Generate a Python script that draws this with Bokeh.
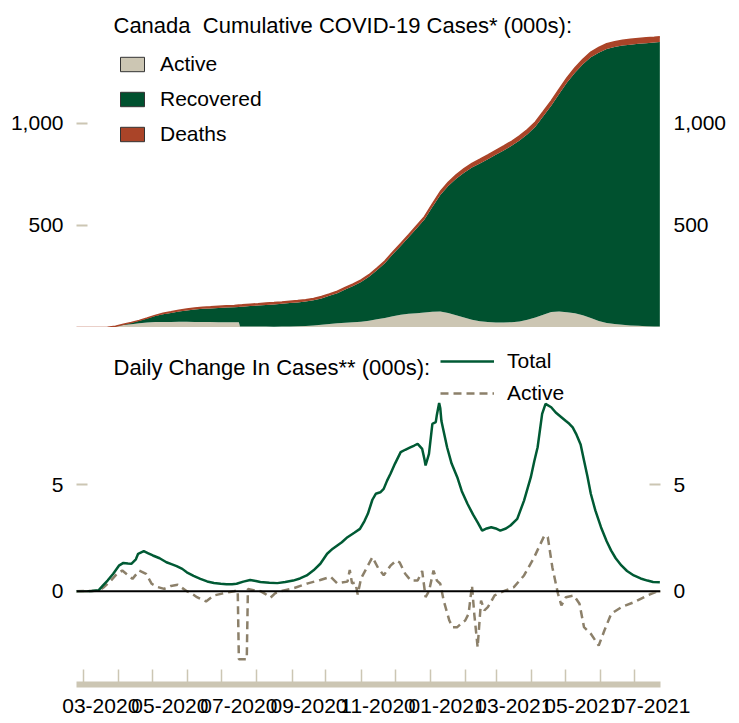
from datetime import datetime
import pandas as pd
from bokeh.plotting import figure
from bokeh.layouts import column
from bokeh.models import (ColumnDataSource, Range1d, LinearAxis, DatetimeAxis, FixedTicker,
                          NumeralTickFormatter, DatetimeTickFormatter, Legend, LegendItem,
                          Label, Span)
from bokeh.embed import file_html
from bokeh.resources import INLINE

FONT = "Liberation Sans"
FS = "21px"
FS_HEAD = "22px"
TXT = "#000000"
BEIGE = "#CCC6B3"
GREEN = "#00512F"
RUST = "#AA4428"
LINE_GREEN = "#005A34"
DASH = "#8C806A"
NAN = float("nan")

# ---------------- data: cumulative (000s) ----------------
top_dates = [
    "2020-02-23", "2020-03-01", "2020-03-08", "2020-03-15", "2020-03-22", "2020-03-29",
    "2020-04-05", "2020-04-12", "2020-04-19", "2020-04-26", "2020-05-03", "2020-05-10",
    "2020-05-17", "2020-05-24", "2020-05-31", "2020-06-07", "2020-06-14", "2020-06-21",
    "2020-06-28", "2020-07-05", "2020-07-12", "2020-07-16", "2020-07-17", "2020-07-19",
    "2020-07-26", "2020-08-02", "2020-08-09", "2020-08-16", "2020-08-23", "2020-08-30",
    "2020-09-06", "2020-09-13", "2020-09-20", "2020-09-27", "2020-10-04", "2020-10-11",
    "2020-10-18", "2020-10-25", "2020-11-01", "2020-11-08", "2020-11-15", "2020-11-22",
    "2020-11-29", "2020-12-06", "2020-12-13", "2020-12-20", "2020-12-27", "2021-01-03",
    "2021-01-10", "2021-01-17", "2021-01-24", "2021-01-31", "2021-02-07", "2021-02-14",
    "2021-02-21", "2021-02-28", "2021-03-07", "2021-03-14", "2021-03-21", "2021-03-28",
    "2021-04-04", "2021-04-11", "2021-04-18", "2021-04-25", "2021-05-02", "2021-05-09",
    "2021-05-16", "2021-05-23", "2021-05-30", "2021-06-06", "2021-06-13", "2021-06-20",
    "2021-06-27", "2021-07-04", "2021-07-11", "2021-07-18", "2021-07-23",
]
total_cases = [
    0.01, 0.02, 0.06, 0.34, 1.5, 6.3,
    15.8, 24.4, 35.0, 46.9, 59.5, 69.9,
    77.0, 84.7, 90.9, 95.7, 99.5, 101.6,
    103.9, 106.2, 108.2, 109.9, 110.3, 111.1,
    114.0, 116.5, 119.5, 122.1, 125.0, 128.9,
    132.1, 136.1, 142.8, 151.6, 164.5, 178.1,
    196.3, 213.9, 233.0, 258.8, 291.6, 325.7,
    370.3, 412.3, 455.1, 499.0, 543.5, 606.0,
    666.5, 711.5, 748.1, 778.6, 804.4, 824.6,
    846.4, 868.6, 889.8, 912.8, 939.0, 970.5,
    1007.0, 1058.6, 1111.0, 1168.0, 1224.6, 1273.2,
    1315.1, 1350.0, 1372.5, 1391.0, 1401.1, 1408.3,
    1412.9, 1417.0, 1420.2, 1423.3, 1425.6,
]
active_cases = [
    0.01, 0.02, 0.05, 0.3, 1.4, 5.8,
    12.5, 16.5, 21.0, 24.5, 26.5, 27.5,
    27.5, 28.0, 28.0, 27.5, 27.0, 26.5,
    26.0, 26.0, 26.0, 26.0, 4.5, 4.5,
    4.3, 4.3, 4.3, 4.1, 4.5, 5.0,
    6.0, 7.5, 10.0, 13.5, 17.5, 20.5,
    23.5, 26.0, 28.0, 33.5, 41.0, 47.0,
    55.0, 62.0, 67.0, 70.0, 73.0, 77.0,
    79.0, 71.0, 60.0, 49.0, 38.0, 31.0,
    27.0, 25.0, 24.5, 26.0, 30.0, 38.0,
    49.0, 63.0, 76.0, 78.0, 75.0, 70.0,
    60.0, 46.0, 32.0, 22.0, 17.0, 13.0,
    10.0, 8.0, 6.5, 5.0, 4.5,
]
deaths = [
    0.0, 0.0, 0.0, 0.001, 0.02, 0.06,
    0.26, 0.65, 1.6, 2.6, 3.7, 4.8,
    5.7, 6.4, 7.3, 7.9, 8.2, 8.4,
    8.6, 8.7, 8.8, 8.83, 8.84, 8.85,
    8.9, 8.95, 9.0, 9.05, 9.1, 9.13,
    9.16, 9.2, 9.24, 9.3, 9.4, 9.6,
    9.8, 10.0, 10.3, 10.6, 10.9, 11.3,
    11.8, 12.3, 12.9, 13.5, 14.1, 15.6,
    16.7, 17.5, 18.6, 19.8, 20.5, 21.2,
    21.6, 22.0, 22.3, 22.5, 22.7, 22.9,
    23.1, 23.3, 23.5, 23.8, 24.2, 24.6,
    24.9, 25.2, 25.5, 25.8, 26.0, 26.2,
    26.3, 26.4, 26.45, 26.5, 26.55,
]
top_labels = ["Active", "Recovered", "Deaths"]

# ---------------- data: daily change (000s) ----------------
total_chg_dates = [
    "2020-02-23", "2020-03-08", "2020-03-14", "2020-03-18", "2020-03-22", "2020-03-27",
    "2020-04-01", "2020-04-05", "2020-04-09", "2020-04-12", "2020-04-16", "2020-04-18",
    "2020-04-23", "2020-04-27", "2020-05-01", "2020-05-07", "2020-05-13", "2020-05-18",
    "2020-05-22", "2020-05-27", "2020-05-31", "2020-06-06", "2020-06-12", "2020-06-18",
    "2020-06-24", "2020-06-30", "2020-07-05", "2020-07-10", "2020-07-14", "2020-07-20",
    "2020-07-26", "2020-07-31", "2020-08-04", "2020-08-12", "2020-08-19", "2020-08-26",
    "2020-09-02", "2020-09-08", "2020-09-14", "2020-09-20", "2020-09-26", "2020-10-02",
    "2020-10-07", "2020-10-11", "2020-10-15", "2020-10-20", "2020-10-26", "2020-10-31",
    "2020-11-04", "2020-11-07", "2020-11-11", "2020-11-14", "2020-11-18", "2020-11-21",
    "2020-11-24", "2020-11-27", "2020-12-01", "2020-12-06", "2020-12-10", "2020-12-14",
    "2020-12-18", "2020-12-21", "2020-12-25", "2020-12-27", "2020-12-28", "2020-12-31",
    "2021-01-03", "2021-01-06", "2021-01-07", "2021-01-09", "2021-01-10", "2021-01-11",
    "2021-01-16", "2021-01-20", "2021-01-25", "2021-01-29", "2021-02-03", "2021-02-08",
    "2021-02-12", "2021-02-16", "2021-02-20", "2021-02-24", "2021-02-28", "2021-03-04",
    "2021-03-09", "2021-03-13", "2021-03-19", "2021-03-25", "2021-03-31", "2021-04-03",
    "2021-04-06", "2021-04-10", "2021-04-13", "2021-04-18", "2021-04-22", "2021-04-27",
    "2021-05-01", "2021-05-04", "2021-05-07", "2021-05-10", "2021-05-14", "2021-05-17",
    "2021-05-20", "2021-05-23", "2021-05-27", "2021-06-01", "2021-06-06", "2021-06-10",
    "2021-06-14", "2021-06-19", "2021-06-24", "2021-06-30", "2021-07-06", "2021-07-12",
    "2021-07-17", "2021-07-23",
]
total_chg = [
    0.0, 0.01, 0.04, 0.27, 0.5, 0.82,
    1.2, 1.33, 1.30, 1.29, 1.5, 1.76,
    1.88, 1.78, 1.68, 1.55, 1.36, 1.26,
    1.18, 1.05, 0.89, 0.72, 0.58, 0.46,
    0.39, 0.35, 0.33, 0.33, 0.35, 0.45,
    0.53, 0.48, 0.43, 0.40, 0.38, 0.43,
    0.50, 0.6, 0.74, 0.98, 1.29, 1.76,
    2.0, 2.15, 2.3, 2.54, 2.75, 2.93,
    3.3, 3.64, 4.3, 4.58, 4.65, 4.81,
    5.2, 5.52, 6.0, 6.54, 6.65, 6.75,
    6.85, 6.93, 6.69, 6.2, 5.91, 6.46,
    7.87, 7.95, 8.3, 8.85, 8.6, 8.0,
    6.77, 6.0, 5.36, 4.7, 4.11, 3.6,
    3.24, 2.85, 2.95, 3.01, 2.95, 2.85,
    2.95, 3.09, 3.40, 4.26, 5.36, 6.1,
    6.77, 8.34, 8.81, 8.65, 8.4, 8.18,
    8.0, 7.87, 7.7, 7.40, 6.9, 6.14,
    5.4, 4.58, 3.8, 3.01, 2.35, 1.91,
    1.55, 1.21, 0.95, 0.74, 0.6, 0.50,
    0.43, 0.42,
]
active_chg_dates = [
    "2020-02-23", "2020-03-14", "2020-03-19", "2020-03-25", "2020-03-30", "2020-04-04",
    "2020-04-08", "2020-04-13", "2020-04-19", "2020-04-25", "2020-04-30", "2020-05-05",
    "2020-05-11", "2020-05-17", "2020-05-23", "2020-05-31", "2020-06-04", "2020-06-09",
    "2020-06-17", "2020-06-24", "2020-07-03", "2020-07-12", "2020-07-15", "2020-07-16",
    "2020-07-23", "2020-07-24", "2020-07-29", "2020-08-04", "2020-08-09", "2020-08-13",
    "2020-08-17", "2020-08-22", "2020-09-03", "2020-09-15", "2020-09-26", "2020-10-05",
    "2020-10-11", "2020-10-20", "2020-10-22", "2020-10-24", "2020-10-27", "2020-10-29",
    "2020-11-01", "2020-11-06", "2020-11-11", "2020-11-16", "2020-11-21", "2020-11-27",
    "2020-12-02", "2020-12-05", "2020-12-10", "2020-12-15", "2020-12-21", "2020-12-25",
    "2020-12-28", "2020-12-31", "2021-01-04", "2021-01-07", "2021-01-10", "2021-01-13",
    "2021-01-18", "2021-01-21", "2021-01-25", "2021-01-29", "2021-02-01", "2021-02-04",
    "2021-02-07", "2021-02-09", "2021-02-12", "2021-02-15", "2021-02-18", "2021-02-21",
    "2021-02-27", "2021-03-07", "2021-03-16", "2021-03-25", "2021-04-03", "2021-04-12",
    "2021-04-15", "2021-04-19", "2021-04-24", "2021-04-27", "2021-05-01", "2021-05-08",
    "2021-05-13", "2021-05-17", "2021-05-23", "2021-05-30", "2021-06-04", "2021-06-10",
    "2021-06-19", "2021-06-30", "2021-07-12", "2021-07-21", "2021-07-23",
]
active_chg = [
    0.0, 0.02, 0.2, 0.5, 0.8, 0.97,
    0.8, 0.58, 0.97, 0.82, 0.35, 0.2,
    0.11, 0.25, 0.30, 0.0, -0.1, -0.28,
    -0.48, -0.2, -0.09, 0.0, 0.05, -3.2,
    -3.2, 0.1, 0.05, 0.0, -0.15, -0.3,
    -0.1, 0.0, 0.15, 0.37, 0.53, 0.68,
    0.37, 0.45, 1.0, 0.37, 0.4, -0.15,
    0.6, 1.1, 1.6, 1.1, 0.75, 1.2,
    1.44, 1.36, 0.82, 0.5, 0.5, 0.95,
    -0.28, 0.0, 0.97, 0.5, 0.35, -0.44,
    -1.38, -1.7, -1.69, -1.5, -1.38, -1.06,
    0.27, -1.06, -2.63, -0.44, -0.9, -0.75,
    -0.2, 0.0, 0.19, 0.74, 1.6, 2.62,
    2.54, 1.13, -0.12, -0.67, -0.28, -0.2,
    -0.59, -1.69, -2.0, -2.55, -1.85, -1.06,
    -0.75, -0.52, -0.2, 0.0, 0.02,
]
bottom_labels = ["Total", "Active"]

# x-axis labels (centred mid-month) and monthly tick marks
x_labels = ["03-2020", "05-2020", "07-2020", "09-2020", "11-2020",
            "01-2021", "03-2021", "05-2021", "07-2021"]
tick_months = ["2020-03", "2020-04", "2020-05", "2020-06", "2020-07", "2020-08",
               "2020-09", "2020-10", "2020-11", "2020-12", "2021-01", "2021-02",
               "2021-03", "2021-04", "2021-05", "2021-06", "2021-07"]


def to_ms(ts):
    return pd.Timestamp(ts).value / 1e6


x_start = datetime(2020, 2, 23, 13)
x_end = datetime(2021, 7, 23, 14)

# ---------------- top figure ----------------
top_src = ColumnDataSource(dict(
    date=pd.to_datetime(top_dates),
    active=active_cases,
    recovered=[t - a - d for t, a, d in zip(total_cases, active_cases, deaths)],
    deaths=deaths,
    total=total_cases,
))

p1 = figure(width=739, height=327, x_axis_type="datetime",
            x_range=Range1d(x_start, x_end), y_range=Range1d(0, 1602.9),
            x_axis_location=None, y_axis_location=None,
            output_backend="svg", toolbar_location=None,
            min_border_left=76, min_border_right=79, min_border_top=0, min_border_bottom=0)
p1.outline_line_color = None
p1.grid.visible = False

p1.varea_stack(stackers=["active", "recovered", "deaths"], x="date", source=top_src,
               color=[BEIGE, GREEN, RUST])
p1.line("date", "total", source=top_src, color=RUST, line_width=1.5)


def y_axis(ticks, fmt, show_ticks):
    return LinearAxis(
        ticker=FixedTicker(ticks=ticks), formatter=NumeralTickFormatter(format=fmt),
        axis_line_color=None, major_tick_in=11, major_tick_out=0,
        major_tick_line_color=BEIGE if show_ticks else None, major_tick_line_width=2,
        minor_tick_line_color=None, major_label_standoff=13,
        major_label_text_font=FONT, major_label_text_font_size=FS,
        major_label_text_color=TXT)


p1.add_layout(y_axis([500, 1000], "0,0", True), "left")
p1.add_layout(y_axis([500, 1000], "0,0", False), "right")

# legend swatches (not drawn in the plot area: NaN geometry)
proxy_items = []
for lab, col in zip(top_labels, [BEIGE, GREEN, RUST]):
    r = p1.quad(left=[NAN], right=[NAN], top=[NAN], bottom=[NAN], fill_color=col,
                line_color="#333333", line_width=1)
    proxy_items.append(LegendItem(label=lab, renderers=[r]))

leg1 = Legend(items=proxy_items, location=(41, 181), glyph_width=30, glyph_height=18,
              label_standoff=13, spacing=11, padding=0, margin=0,
              border_line_color=None, background_fill_alpha=0,
              label_text_font=FONT, label_text_font_size=FS,
              label_text_color=TXT, label_height=18)
p1.add_layout(leg1)

p1.add_layout(Label(x=37, y=302, x_units="screen", y_units="screen",
                    text="Canada\u00a0 Cumulative COVID-19 Cases* (000s):",
                    text_font=FONT, text_font_size=FS_HEAD, text_color=TXT,
                    text_baseline="alphabetic"))

# ---------------- bottom figure ----------------
tot_src = ColumnDataSource(dict(date=pd.to_datetime(total_chg_dates), v=total_chg))
act_src = ColumnDataSource(dict(date=pd.to_datetime(active_chg_dates), v=active_chg))

p2 = figure(width=739, height=396, x_axis_type="datetime",
            x_range=p1.x_range, y_range=Range1d(-4.386, 12.398),
            x_axis_location=None, y_axis_location=None,
            output_backend="svg", toolbar_location=None,
            min_border_left=76, min_border_right=79, min_border_top=0, min_border_bottom=39)
p2.outline_line_color = None
p2.grid.visible = False

p2.add_layout(Span(location=0, dimension="width", line_color="black", line_width=2))
r_act = p2.line("date", "v", source=act_src, color=DASH, line_width=2.5, line_dash="8 5")
r_tot = p2.line("date", "v", source=tot_src, color=LINE_GREEN, line_width=2.5)

p2.add_layout(y_axis([0, 5], "0", True), "left")
p2.add_layout(y_axis([0, 5], "0", True), "right")

label_ticks = [to_ms(datetime(int(s[3:]), int(s[:2]), 16)) for s in x_labels]
month_ticks = [to_ms(m + "-01") for m in tick_months]
fmt = "%m-%Y"
xa = DatetimeAxis(
    ticker=FixedTicker(ticks=label_ticks, minor_ticks=month_ticks),
    formatter=DatetimeTickFormatter(days=fmt, months=fmt, years=fmt, hours=fmt,
                                    minutes=fmt, seconds=fmt, milliseconds=fmt,
                                    minsec=fmt, hourmin=fmt, microseconds=fmt),
    axis_line_color=BEIGE, axis_line_width=6,
    major_tick_line_color=None, major_tick_in=0, major_tick_out=0,
    minor_tick_line_color=BEIGE, minor_tick_in=15, minor_tick_out=0, minor_tick_line_width=1.5,
    major_label_standoff=14, major_label_text_font=FONT, major_label_text_font_size=FS,
    major_label_text_color=TXT)
p2.add_layout(xa, "below")

leg2 = Legend(items=[LegendItem(label=bottom_labels[0], renderers=[r_tot]),
                     LegendItem(label=bottom_labels[1], renderers=[r_act])],
              location=(364, 279), glyph_width=54, glyph_height=18,
              label_standoff=13, spacing=8, padding=0, margin=0,
              border_line_color=None, background_fill_alpha=0,
              label_text_font=FONT, label_text_font_size=FS,
              label_text_color=TXT, label_height=18)
p2.add_layout(leg2)

p2.add_layout(Label(x=37, y=317.3, x_units="screen", y_units="screen",
                    text="Daily Change In Cases** (000s):",
                    text_font=FONT, text_font_size=FS_HEAD, text_color=TXT,
                    text_baseline="alphabetic"))

layout = column(p1, p2)
open("out.html", "w").write(file_html(layout, INLINE))
